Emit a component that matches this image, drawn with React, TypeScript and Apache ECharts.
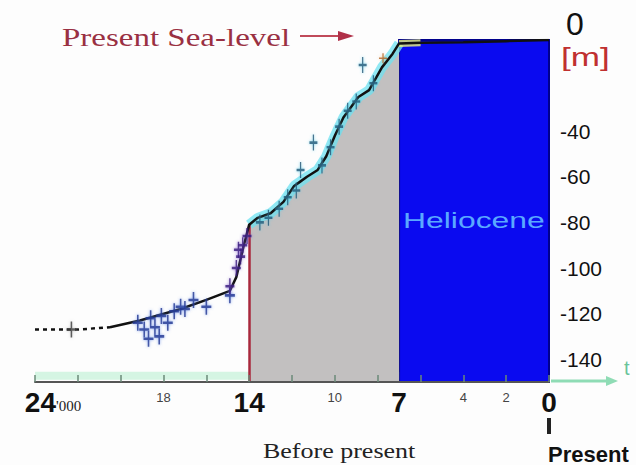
import React, { useEffect, useRef } from "react";
import * as echarts from "echarts";

// Sea-level curve (ka before present, metres relative to present sea level)
const dashKa = [24, 22, 20.5];
const dashM = [-127, -127, -126];
const curveKa = [20.5, 19.1, 17.2, 16.0, 14.9, 14.6, 14.3, 14.0, 13.6, 13.0, 12.4, 11.9, 11.6, 11.3, 10.8, 10.4, 10.0, 9.6, 8.9, 8.4, 7.8, 7.3, 7.0, 6.0, 4.0, 2.0, 0];
const curveM = [-126, -123, -118, -114, -110, -104, -92, -81, -78, -76, -71, -64, -62, -60, -57, -51, -42, -34, -25, -22, -12, -6, -1.5, -1.2, -1, -0.5, 0];

// Proxy data points (crosses)
const blueKa = [19.2, 18.9, 18.6, 18.4, 18.1, 17.8, 17.5, 17.2, 18.7, 18.2, 17.0, 16.6, 16.0, 14.9];
const blueM = [-124, -127, -122, -126, -121, -124, -119, -117, -131, -130, -118, -114, -117, -112];
const purpleKa = [14.9, 14.6, 14.4, 14.3, 14.1, 14.5];
const purpleM = [-108, -100, -95, -90, -86, -92];
const tealKa = [13.5, 13.1, 12.6, 12.2, 11.8, 11.6, 11.0, 10.6, 10.2, 9.8, 9.4, 9.0, 8.7, 8.2];
const tealM = [-80, -78, -74, -69, -66, -57, -45, -55, -47, -38, -31, -27, -11, -19];
const otherKa = [22.3];
const otherM = [-127];
const orangeKa = [7.75];
const orangeM = [-8];

// Periods
const lateGlacial = [14, 7];
const holocene = [7, 0];

// Axis labels
const bigTicks = [24, 14, 7, 0];
const smallTicks = [18, 10, 4, 2];
const depthTicks = [-40, -60, -80, -100, -120, -140];

const zip = (a: number[], b: number[]) => a.map((v, i) => [v, b[i]]);
const PLUS = "path://M-1.6,-10H1.6V-1.6H10V1.6H1.6V10H-1.6V1.6H-10V-1.6H-1.6Z";

const txt = (x: number, y: number, text: string, size: number, family: string, fill: string, extra: any = {}) => ({
  type: "text",
  x,
  y,
  z: 100,
  scaleX: extra.scaleX || 1,
  style: {
    text,
    fontSize: size,
    fontFamily: family,
    fontWeight: extra.weight || "normal",
    fill,
    verticalAlign: "middle",
    align: "left",
  },
});

export default function App() {
  const ref = useRef<HTMLDivElement>(null);
  useEffect(() => {
    if (!ref.current) return;
    const chart = echarts.init(ref.current, undefined, { renderer: "svg" });
    const curve = zip(curveKa, curveM);
    const rise = curve.filter(([k]) => k <= lateGlacial[0] && k >= lateGlacial[1]);
    const mAt14 = curveM[curveKa.indexOf(lateGlacial[0])];
    const crossSeries = (name: string, ka: number[], m: number[], color: string, size: number[], glow: string) => ({
      name,
      type: "scatter",
      data: zip(ka, m),
      symbol: PLUS,
      symbolSize: size,
      itemStyle: { color, shadowBlur: 3, shadowColor: glow },
      z: 6,
    });
    chart.setOption({
      animation: false,
      backgroundColor: "#fdfdfd",
      grid: { left: 35, right: 87, top: 40, bottom: 83 },
      xAxis: [
        {
          type: "value",
          inverse: true,
          position: "bottom",
          z: 20,
          min: 0,
          max: 24,
          interval: 1,
          axisLine: { show: true, onZero: false, lineStyle: { color: "#555", width: 2 } },
          axisTick: { show: false },
          splitLine: { show: false },
          axisLabel: {
            showMinLabel: true,
            showMaxLabel: true,
            margin: 6,
            verticalAlign: "top",
            formatter: (v: number) => {
              if (v === 24) return "{pad|}{big|24}{sm|'000}";
              if (bigTicks.includes(v)) return "{big|" + v + "}";
              if (smallTicks.includes(v)) return "{small|" + v + "}";
              return "";
            },
            rich: {
              pad: { width: 36 },
              big: { fontSize: 28, fontFamily: "Liberation Sans", fontWeight: "bold", color: "#111", lineHeight: 28, verticalAlign: "bottom" },
              sm: { fontSize: 15, fontFamily: "Liberation Serif", color: "#222", lineHeight: 28, verticalAlign: "bottom", padding: [0, 0, 3, 0] },
              small: { fontSize: 13, fontFamily: "Liberation Sans", color: "#444", lineHeight: 16, padding: [2, 0, 0, 0] },
            },
          },
        },
        {
          type: "value",
          inverse: true,
          position: "bottom",
          z: 20,
          min: 0,
          max: 24,
          interval: 2,
          axisLine: { show: false, onZero: false },
          axisTick: { show: true, inside: true, length: 7, lineStyle: { color: "#6a8a78", width: 1.5 } },
          axisLabel: { show: false },
          splitLine: { show: false },
        },
      ],
      yAxis: {
        type: "value",
        position: "right",
        min: -150,
        max: 0,
        interval: 10,
        axisLine: { show: false, onZero: false },
        axisTick: { show: false },
        splitLine: { show: false },
        axisLabel: {
          margin: 11,
          fontSize: 21,
          fontFamily: "Liberation Sans",
          color: "#111",
          formatter: (v: number) => (depthTicks.includes(v) ? String(v) : ""),
        },
      },
      series: [
        {
          name: "rise",
          type: "line",
          data: rise,
          symbol: "none",
          lineStyle: { width: 0 },
          areaStyle: { color: "#c2c0c0", opacity: 1, origin: "start" },
          z: 1,
          markArea: {
            silent: true,
            data: [
              [
                { xAxis: holocene[0], yAxis: 0, itemStyle: { color: "#0a0af0", borderColor: "#00008c", borderWidth: 2 } },
                { xAxis: holocene[1], yAxis: -150 },
              ],
            ],
          },
          markLine: {
            silent: true,
            symbol: "none",
            label: { show: false },
            lineStyle: { color: "#a8283c", width: 2.5, type: "solid" },
            data: [[{ coord: [lateGlacial[0], mAt14] }, { coord: [lateGlacial[0], -150] }]],
          },
        },
        {
          name: "strip",
          type: "line",
          data: [],
          markArea: {
            silent: true,
            itemStyle: { color: "rgba(180,238,205,0.55)" },
            data: [[{ xAxis: 24, yAxis: -149 }, { xAxis: holocene[0], yAxis: -145.5 }]],
          },
          z: 2,
        },
        {
          name: "glow",
          type: "line",
          data: rise,
          symbol: "none",
          lineStyle: { width: 10, color: "rgba(110,225,240,0.75)" },
          z: 3,
        },
        {
          name: "glowTop",
          type: "line",
          data: curve.filter(([k]) => k <= 7 && k >= 5.5),
          symbol: "none",
          lineStyle: { width: 7, color: "rgba(235,245,120,0.8)" },
          z: 3,
        },
        {
          name: "dashed",
          type: "line",
          data: zip(dashKa, dashM),
          symbol: "none",
          lineStyle: { width: 2.5, color: "#111", type: [4, 4] },
          z: 5,
        },
        {
          name: "curve",
          type: "line",
          data: curve,
          symbol: "none",
          lineStyle: { width: 2.5, color: "#111" },
          z: 5,
        },
        crossSeries("blue", blueKa, blueM, "#1d2f8f", [10, 16], "rgba(90,130,230,0.9)"),
        crossSeries("purple", purpleKa, purpleM, "#34157a", [9, 16], "rgba(120,80,200,0.9)"),
        crossSeries("teal", tealKa, tealM, "#1f4f70", [8, 16], "rgba(90,200,230,0.9)"),
        crossSeries("other", otherKa, otherM, "#333", [10, 16], "rgba(150,150,150,0.6)"),
        crossSeries("orange", orangeKa, orangeM, "#b06020", [8, 10], "rgba(230,160,80,0.6)"),
      ],
      graphic: [
        txt(62, 37, "Present Sea-level", 25, "Liberation Serif", "#9a3042", { scaleX: 1.32 }),
        { type: "line", z: 100, shape: { x1: 300, y1: 36, x2: 345, y2: 36 }, style: { stroke: "#c04a5a", lineWidth: 2 } },
        { type: "polygon", z: 100, shape: { points: [[338, 31], [354, 36], [338, 41]] }, style: { fill: "#b03048" } },
        txt(566, 24, "0", 32, "Liberation Sans", "#111"),
        txt(561, 57, "[m]", 26, "Liberation Sans", "#c03030", { scaleX: 1.35 }),
        txt(403, 220, "Heliocene", 22, "Liberation Sans", "#5aa8ff", { scaleX: 1.45 }),
        txt(263, 451, "Before present", 20, "Liberation Serif", "#222", { scaleX: 1.3 }),
        { type: "rect", z: 100, shape: { x: 547, y: 418, width: 4, height: 16 }, style: { fill: "#222" } },
        txt(548, 454, "Present", 22, "Liberation Sans", "#111", { weight: "bold" }),
        { type: "line", z: 100, shape: { x1: 551, y1: 381, x2: 612, y2: 381 }, style: { stroke: "#8fdcb5", lineWidth: 3 } },
        { type: "polygon", z: 100, shape: { points: [[606, 376], [618, 381], [606, 386]] }, style: { fill: "#8fdcb5" } },
        txt(624, 368, "t", 20, "Liberation Sans", "#6ac49a"),
      ],
    });
    return () => chart.dispose();
  }, []);
  return <div ref={ref} style={{ position: "fixed", left: 0, top: 0, width: 636, height: 465 }} />;
}
